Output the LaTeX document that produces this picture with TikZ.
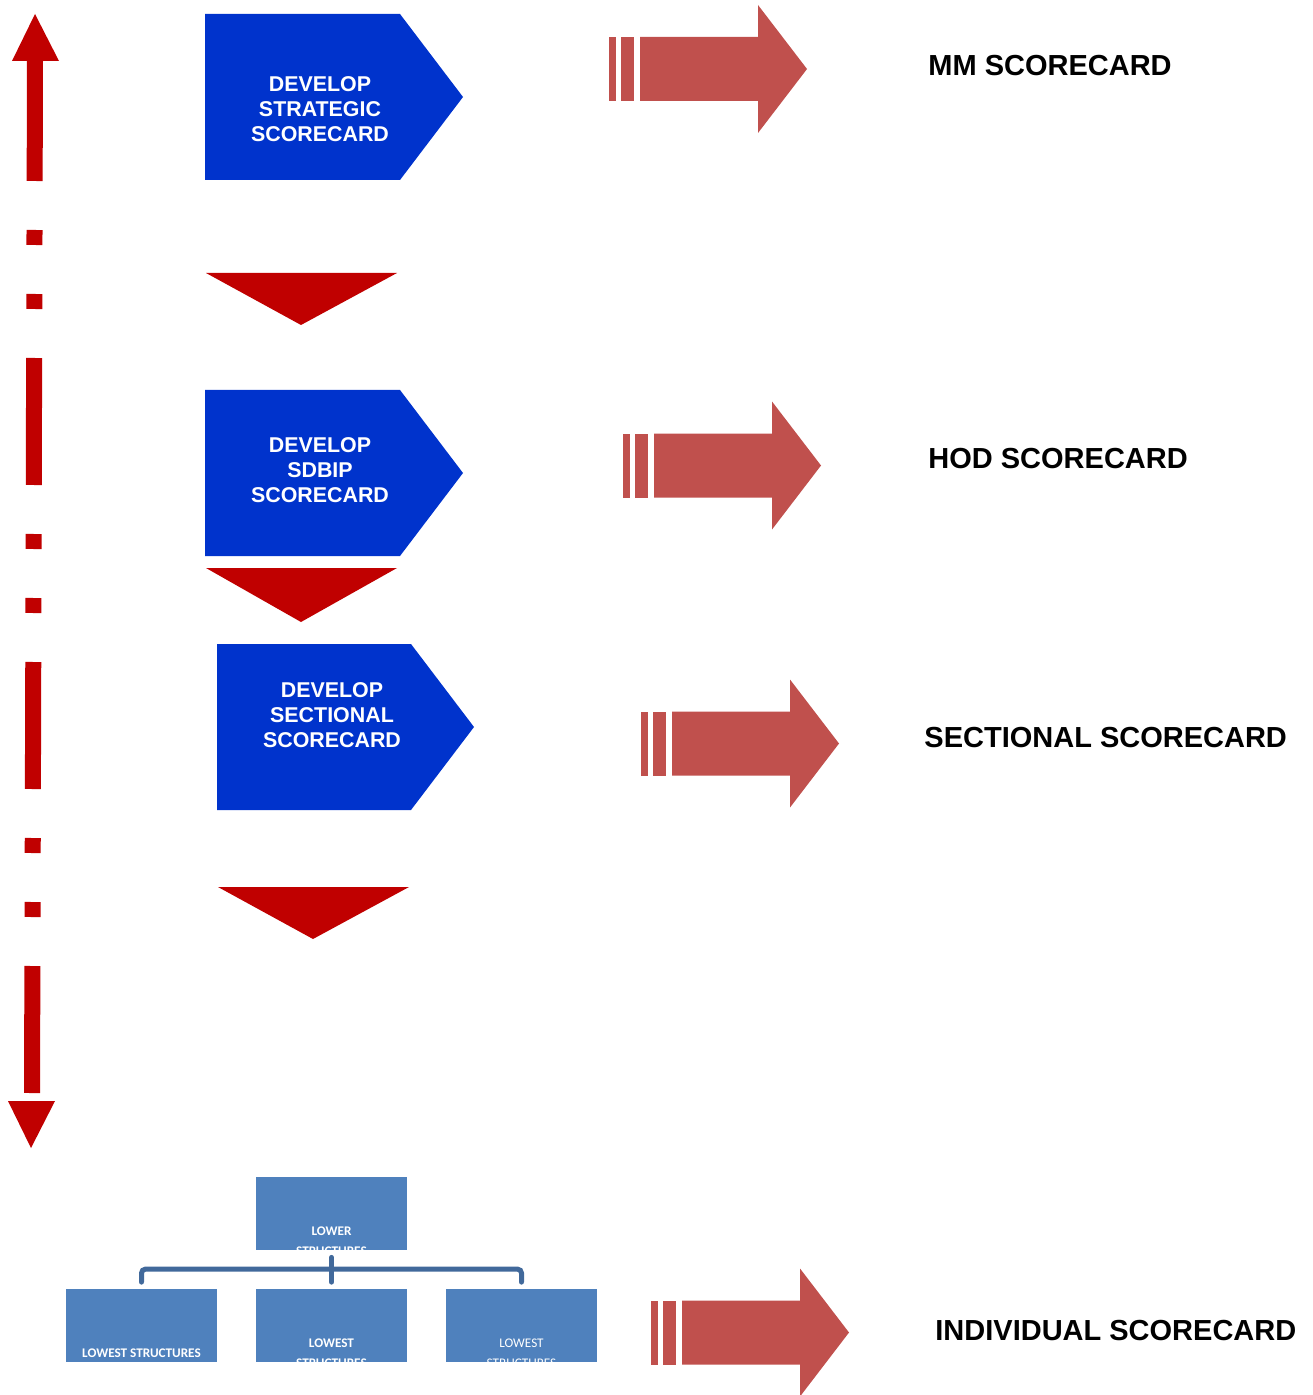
\documentclass[tikz,border=0pt]{standalone}
\usepackage{fontspec}
\setmainfont{Liberation Sans}
\newfontfamily\orgfont{Carlito}
\usepackage{tikz}
\usetikzlibrary{calc}
\definecolor{stageblue}{HTML}{0033CC}
\definecolor{darkred}{HTML}{C00000}
\definecolor{arrowred}{HTML}{C0504D}
\definecolor{orgblue}{HTML}{4F81BD}
\definecolor{orgdark}{HTML}{41699B}

\begin{document}
\begin{tikzpicture}[x=0.5pt,y=-0.5pt,
  stagetext/.style={text=white,align=center,inner sep=0pt,
    font=\bfseries\fontsize{10.7pt}{12.5pt}\selectfont},
  cardlabel/.style={anchor=west,inner sep=0pt,
    font=\bfseries\fontsize{14.5pt}{17pt}\selectfont},
  orgbox/.style={fill=orgblue,minimum width=75.5pt,minimum height=36.5pt,inner sep=0pt},
  orgtext/.style={text=white,align=center,inner sep=0pt,
    font=\orgfont\fontsize{6.6pt}{10pt}\selectfont},
  orgline/.style={orgdark,line width=2.5pt,line cap=round,rounded corners=2pt}]
\useasboundingbox (0,0) rectangle (1312,1395);

% dash-dot-dot timeline on the left
\coordinate (up) at (35,61);
\coordinate (down) at (32,1101);
\draw[darkred,line width=8pt,
  dash pattern=on 63.5pt off 24.5pt on 7.5pt off 24.5pt on 7.5pt off 24.5pt,
  dash phase=3.5pt] (up) -- (down);
\fill[darkred] (35,14) -- (59,61) -- (12,61) -- cycle;
\fill[darkred] (8,1101) -- (55,1101) -- (31,1148) -- cycle;

% stages
\fill[stageblue] (205,14) -- (400,14) -- (463,97) -- (400,180) -- (205,180) -- cycle;
\node[stagetext] (strategic) at (320,109) {DEVELOP\\STRATEGIC\\SCORECARD};
\fill[stageblue] (205,390) -- (400,390) -- (463,473) -- (400,556) -- (205,556) -- cycle;
\node[stagetext] (sdbip) at (320,470) {DEVELOP\\SDBIP\\SCORECARD};
\fill[stageblue] (217,644) -- (411,644) -- (474,727) -- (411,810) -- (217,810) -- cycle;
\node[stagetext] (sectional) at (332,715) {DEVELOP\\SECTIONAL\\SCORECARD};

\fill[darkred] (206,273) -- (397,273) -- (301,325) -- cycle;
\fill[darkred] (206,568) -- (397,568) -- (301,622) -- cycle;
\fill[darkred] (218,887) -- (409,887) -- (313,939) -- cycle;

% striped arrows
\foreach \x/\y in {609/69,623/465.5,641/743.5,651/1332.5}{
  \begin{scope}[shift={(\x,\y)}]
    \fill[arrowred] (0,-32) rectangle (7,32);
    \fill[arrowred] (12,-32) rectangle (25,32);
    \fill[arrowred] (31,-32) -- (149,-32) -- (149,-64) -- (198,0)
      -- (149,64) -- (149,32) -- (31,32) -- cycle;
  \end{scope}
}

\node[cardlabel] (mm) at (928,66) {MM SCORECARD};
\node[cardlabel] (hod) at (928,459) {HOD SCORECARD};
\node[cardlabel] (sect) at (924,738) {SECTIONAL SCORECARD};
\node[cardlabel] (indiv) at (935,1331) {INDIVIDUAL SCORECARD};

% org chart
\node[orgbox] (lower) at (331.5,1213.5) {};
\node[orgbox] (lowa) at (141.5,1325) {};
\node[orgbox] (lowb) at (331.5,1325) {};
\node[orgbox] (lowc) at (521.5,1325) {};
\begin{scope}
  \clip (lower.north west) rectangle ($(lower.south east)+(0,1)$);
  \node[orgtext] (lowertxt) at ($(lower.north)+(0,65)$) {\bfseries LOWER\\\bfseries STRUCTURES};
\end{scope}
\node[orgtext] (lowatxt) at ($(lowa.north)+(0,65)$) {\bfseries LOWEST STRUCTURES};
\begin{scope}
  \clip (lowb.north west) rectangle ($(lowb.south east)+(0,1)$);
  \node[orgtext] (lowbtxt) at ($(lowb.north)+(0,65)$) {\bfseries LOWEST\\\bfseries STRUCTURES};
\end{scope}
\begin{scope}
  \clip (lowc.north west) rectangle ($(lowc.south east)+(0,1)$);
  \node[orgtext] (lowctxt) at ($(lowc.north)+(0,65)$) {LOWEST\\STRUCTURES};
\end{scope}
\draw[orgline] ($(lower.south)+(0,7)$) -- ($(lowb.north)+(0,-6)$);
\draw[orgline] ($(lowa.north)+(0,-6)$) |- ($(lowb.north)+(0,-19)$) -| ($(lowc.north)+(0,-6)$);
\end{tikzpicture}
\end{document}
